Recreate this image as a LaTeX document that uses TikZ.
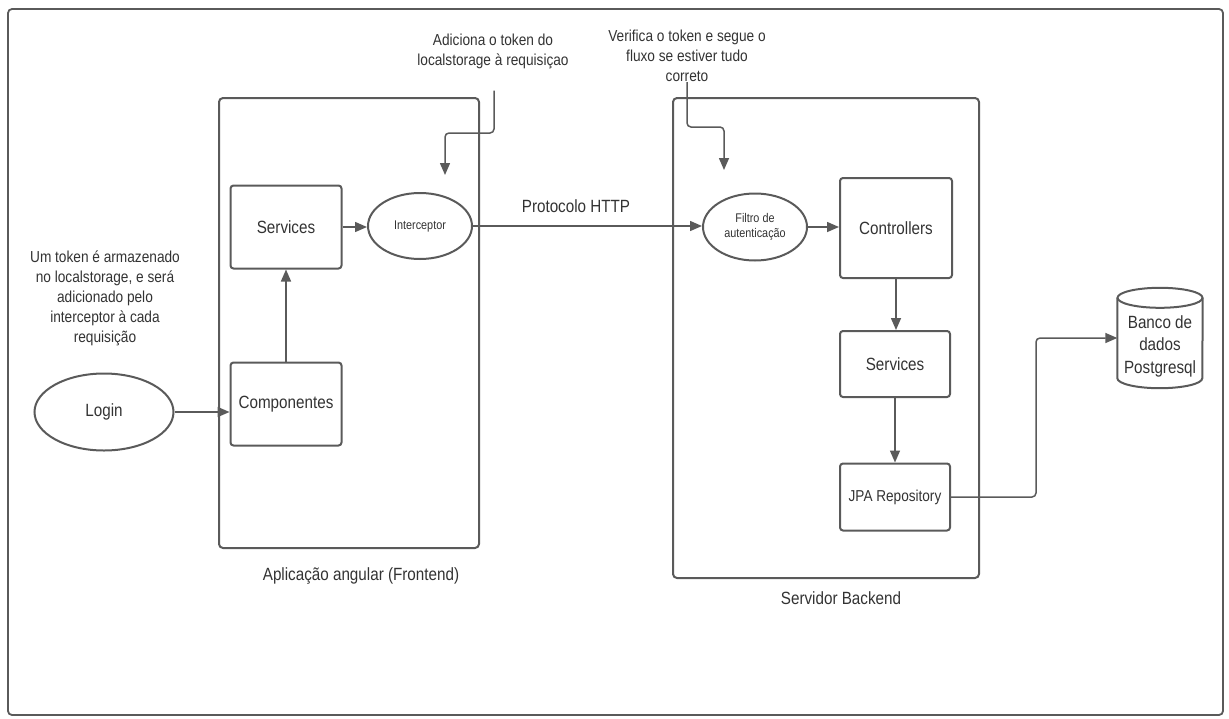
\documentclass[tikz,border=0pt]{standalone}
\usepackage{fontspec}
\setmainfont[FakeStretch=0.86]{Liberation Sans}
\usetikzlibrary{shapes, arrows.meta, positioning, calc}
\definecolor{linegray}{HTML}{5A5A5A}
\definecolor{txtgray}{HTML}{333333}

\begin{document}
\begin{tikzpicture}[x=1pt,y=-1pt,>={Triangle[length=12pt,width=10pt]},
    every node/.style={text=txtgray,inner sep=0pt,font=\fontsize{17.7}{20}\selectfont},
    box/.style={draw=linegray,line width=2pt,rounded corners=3pt,rectangle},
    oval/.style={draw=linegray,line width=2pt,ellipse},
    container/.style={draw=linegray,line width=2pt,rounded corners=4pt,rectangle},
    note/.style={align=center,font=\fontsize{15.9}{20}\selectfont},
    small/.style={align=center,font=\fontsize{12.6}{15.5}\selectfont},
    link/.style={draw=linegray,line width=1.5pt,->,rounded corners=4pt}]

    \useasboundingbox (0,0) rectangle (1229,718);
    \draw[linegray,line width=1.8pt,rounded corners=4pt] (8,9) rectangle (1223,715);

    \node[container,minimum width=260pt,minimum height=450pt] (frontend) at (349,323) {};
    \node[container,minimum width=306pt,minimum height=480pt] (backend) at (826,338) {};
    \node (frontlbl) at (361,576) {Aplicação angular (Frontend)};
    \node (backlbl) at (841,598) {Servidor Backend};

    \node[box,minimum width=111pt,minimum height=83pt] (fservices) at (286,227) {Services};
    \node[box,minimum width=111pt,minimum height=83pt] (componentes) at (286,404) {Componentes};
    \node[oval,small,minimum width=104pt,minimum height=66pt] (interceptor) at (420,226) {Interceptor};
    \node[oval,minimum width=139pt,minimum height=77pt] (login) at (104,412) {Login};

    \node[oval,small,minimum width=104pt,minimum height=67pt] (filtro) at (755,227) {Filtro de\\autenticação};
    \node[box,minimum width=112pt,minimum height=100pt] (controllers) at (896,228) {Controllers};
    \node[box,minimum width=110pt,minimum height=66pt] (bservices) at (895,364) {Services};
    \node[box,minimum width=110pt,minimum height=67pt,font=\fontsize{15.8}{18}\selectfont] (jpa) at (895,497) {JPA Repository};

    \node[minimum width=85pt,minimum height=100pt] (db) at (1160,338) {};
    \draw[linegray,line width=2pt] ($(db.north west)+(0,10)$) -- ($(db.south west)+(0,-10)$)
      arc[start angle=180,end angle=360,x radius=42.5pt,y radius=10pt] -- ($(db.north east)+(0,10)$);
    \draw[linegray,line width=2pt] ($(db.north)+(0,10)$) ellipse[x radius=42.5pt,y radius=10pt];
    \node[align=center,font=\fontsize{17.7}{22.5}\selectfont] (dbtext) at ($(db.center)+(0,8)$) {Banco de\\dados\\Postgresql};

    \node[note] (tokennote) at (105,298) {Um token é armazenado\\no localstorage, e será\\adicionado pelo\\interceptor à cada\\requisição};
    \node[note] (addnote) at (493,51) {Adiciona o token do\\localstorage à requisiçao};
    \node[note] (verifnote) at (687,56) {Verifica o token e segue o\\fluxo se estiver tudo\\correto};
    \node (http) at (576,206) {Protocolo HTTP};

    \coordinate (intctip) at (445,175);
    \coordinate (filtrotip) at (724,170);

    \draw[link] (login.east) -- (login.east -| componentes.west);
    \draw[link] (componentes.north) -- (fservices.south);
    \draw[link] (fservices.east) -- (fservices.east -| interceptor.west);
    \draw[link] (interceptor.east) -- (interceptor.east -| filtro.west);
    \draw[link] (filtro.east) -- (filtro.east -| controllers.west);
    \draw[link] (controllers.south) -- (controllers.south |- bservices.north);
    \draw[link] (bservices.south) -- (bservices.south |- jpa.north);
    \draw[link] (jpa.east) -- ++(85,0) |- (db.west);
    \draw[link] ($(addnote.south)+(1,22)$) |- ($(intctip)+(0,-42)$) -- (intctip);
    \draw[link] (verifnote.south) |- ($(filtrotip)+(0,-43)$) -- (filtrotip);
  \end{tikzpicture}
\end{document}
